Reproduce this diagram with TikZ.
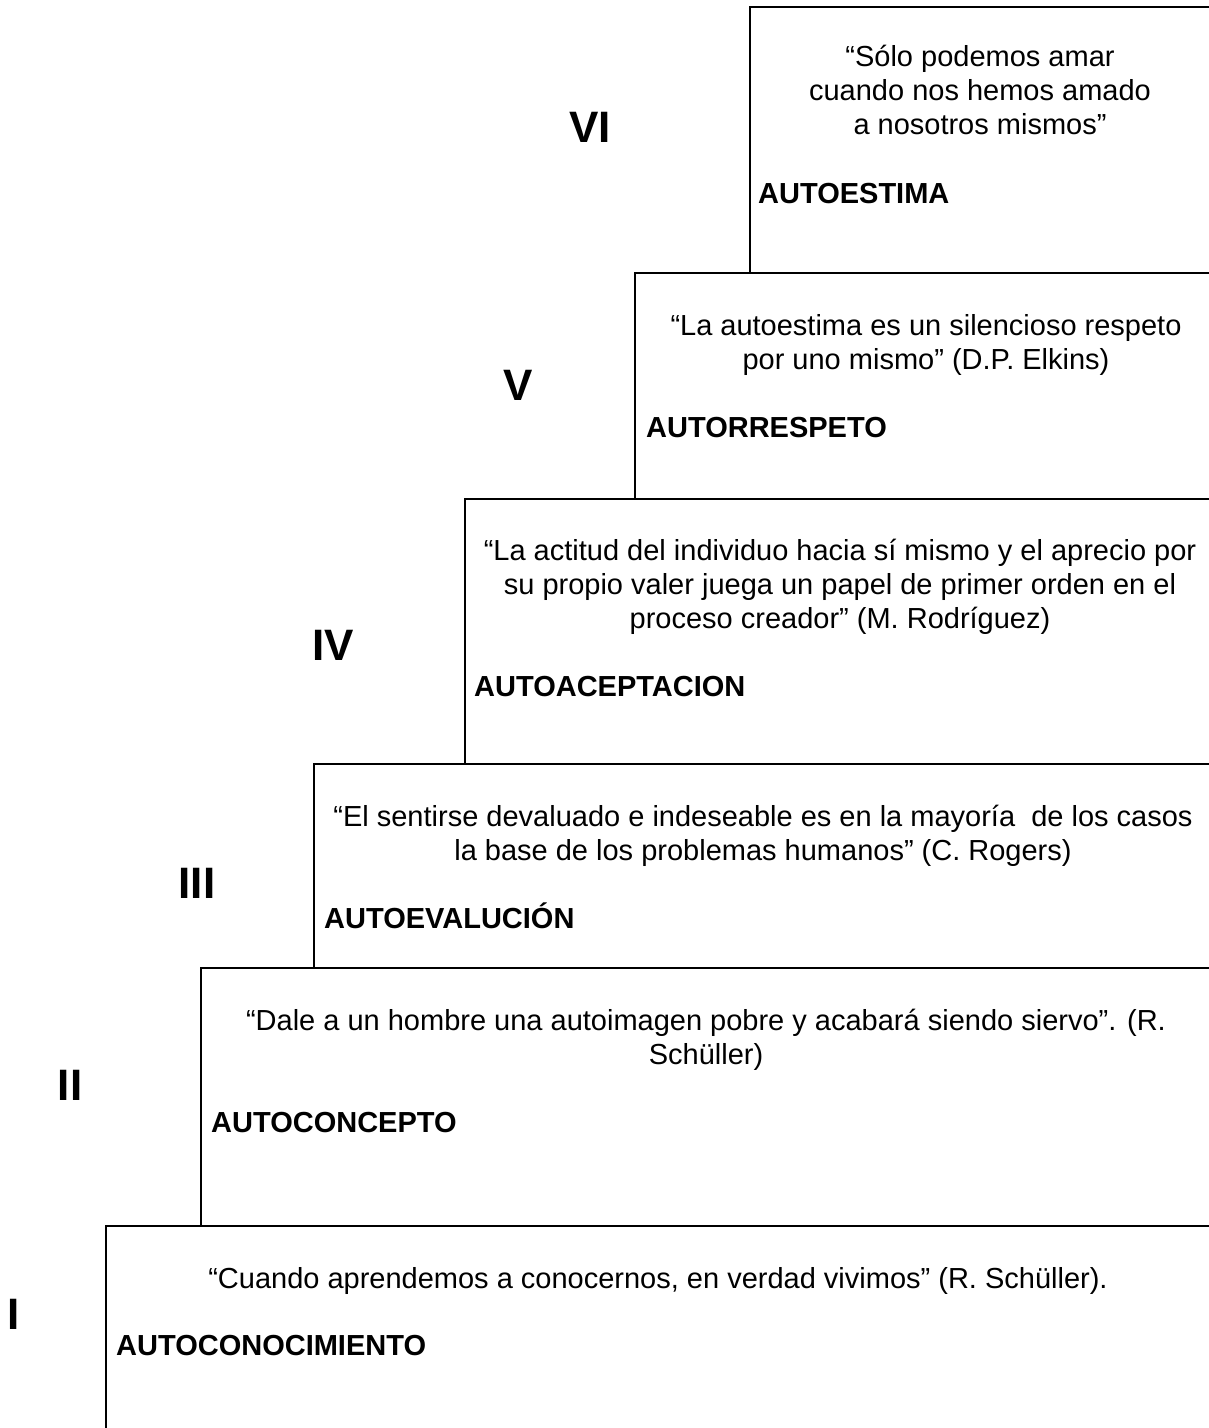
\documentclass[tikz,border=0pt]{standalone}
\usepackage{fontspec}
\setmainfont{Liberation Sans}
\begin{document}
\begin{tikzpicture}[x=1pt,y=-1pt,
  step line/.style={line width=2pt,line cap=rect},
  quote/.style={anchor=base,inner sep=0pt,font=\fontsize{29}{34}\selectfont},
  label/.style={anchor=base west,inner sep=0pt,font=\fontsize{29}{34}\selectfont\bfseries},
  numeral/.style={inner sep=0pt,font=\fontsize{44}{50}\selectfont\bfseries}]
\useasboundingbox (0,0) rectangle (1209,1428);
% stair outline
\coordinate (t6) at (750,7);
\coordinate (t5) at (635,273);
\coordinate (t4) at (465,499);
\coordinate (t3) at (314,764);
\coordinate (t2) at (201,968);
\coordinate (t1) at (106,1226);
\draw[step line] (1215,7) -- (t6) -- (750,273);
\draw[step line] (1215,273) -- (t5) -- (635,499);
\draw[step line] (1215,499) -- (t4) -- (465,764);
\draw[step line] (1215,764) -- (t3) -- (314,968);
\draw[step line] (1215,968) -- (t2) -- (201,1226);
\draw[step line] (1215,1226) -- (t1) -- (106,1435);
% VI
\node[numeral] (n6) at (590,127) {VI};
\node[quote] (q6a) at (980,66) {“Sólo podemos amar};
\node[quote] (q6b) at (980,100) {cuando nos hemos amado};
\node[quote] (q6c) at (980,134) {a nosotros mismos”};
\node[label] (l6) at (758,203) {AUTOESTIMA};
% V
\node[numeral] (n5) at (518,385) {V};
\node[quote] (q5a) at (926,335) {“La autoestima es un silencioso respeto};
\node[quote] (q5b) at (926,369) {por uno mismo” (D.P. Elkins)};
\node[label] (l5) at (646,437) {AUTORRESPETO};
% IV
\node[numeral] (n4) at (333,645) {IV};
\node[quote] (q4a) at (840,560) {“La actitud del individuo hacia sí mismo y el aprecio por};
\node[quote] (q4b) at (840,594) {su propio valer juega un papel de primer orden en el};
\node[quote] (q4c) at (840,628) {proceso creador” (M. Rodríguez)};
\node[label] (l4) at (474,696) {AUTOACEPTACION};
% III
\node[numeral] (n3) at (197,883) {III};
\node[quote] (q3a) at (763,826) {“El sentirse devaluado e indeseable es en la mayoría\ \ de los casos};
\node[quote] (q3b) at (763,860) {la base de los problemas humanos” (C. Rogers)};
\node[label] (l3) at (324,928) {AUTOEVALUCIÓN};
% II
\node[numeral] (n2) at (70,1085) {II};
\node[quote] (q2a) at (706,1030) {“Dale a un hombre una autoimagen pobre y acabará siendo siervo”. (R.};
\node[quote] (q2b) at (706,1064) {Schüller)};
\node[label] (l2) at (211,1132) {AUTOCONCEPTO};
% I
\node[numeral] (n1) at (14,1314) {I};
\node[quote] (q1) at (658,1288) {“Cuando aprendemos a conocernos, en verdad vivimos” (R. Schüller).};
\node[label] (l1) at (116,1355) {AUTOCONOCIMIENTO};
\end{tikzpicture}
\end{document}
